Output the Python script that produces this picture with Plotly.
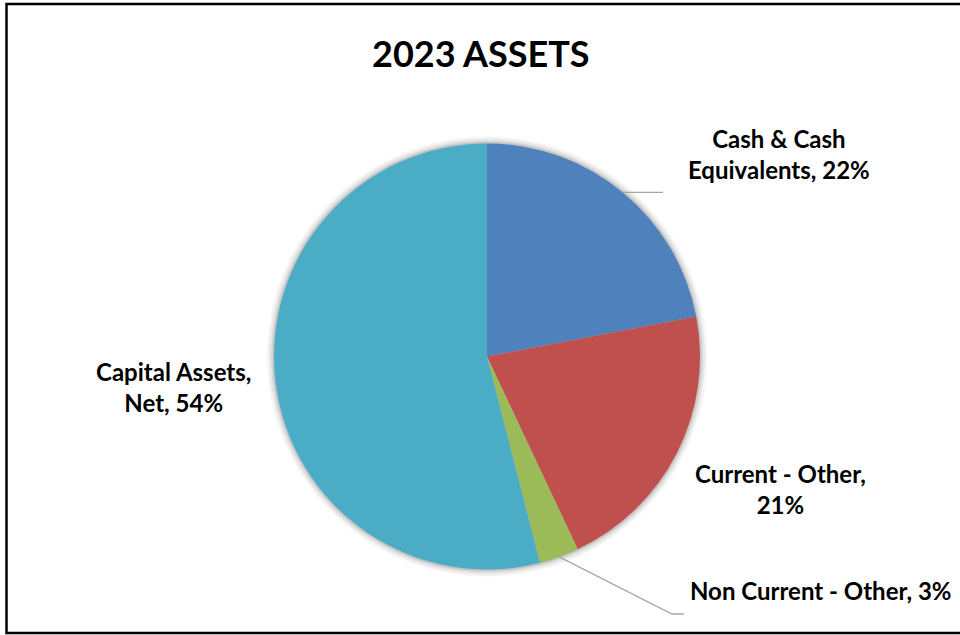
import math
import plotly.graph_objects as go

# Asset composition, percent of total
categories = ["Cash & Cash Equivalents", "Current - Other", "Non Current - Other", "Capital Assets, Net"]
values = [22, 21, 3, 54]
colors = ["#4F81BD", "#C0504D", "#9BBB59", "#4BACC6"]
# Data-label text (line breaks as they wrap on the chart)
label_lines = [
    ["Cash & Cash", "Equivalents, {}%"],
    ["Current - Other,", "{}%"],
    ["Non Current - Other, {}%"],
    ["Capital Assets,", "Net, {}%"],
]

W, H = 960, 635
FONT = "Lato"
CX, CY, R = 487, 356.5, 213  # pie centre / radius in pixels (y measured from top)


def px(x):
    return x / W


def py(y):
    return 1 - y / H


def edge_point(frac):
    """Pixel point on the pie rim at a given cumulative fraction (clockwise from 12 o'clock)."""
    a = 2 * math.pi * frac
    return CX + R * math.sin(a), CY - R * math.cos(a)


fig = go.Figure()

fig.add_trace(go.Pie(
    labels=categories,
    values=values,
    sort=False,
    direction="clockwise",
    rotation=0,
    marker=dict(colors=colors, line=dict(width=0)),
    textinfo="none",
    hoverinfo="label+percent",
    showlegend=False,
    domain=dict(x=[px(CX - R), px(CX + R)], y=[py(CY + R), py(CY - R)]),
))

shapes = []

# soft glow around the pie
for grow, op in [(7, 0.04), (5, 0.05), (3, 0.07), (1.5, 0.09)]:
    shapes.append(dict(
        type="circle", xref="paper", yref="paper", layer="below",
        x0=px(CX - R - grow), x1=px(CX + R + grow),
        y0=py(CY + R + grow), y1=py(CY - R - grow),
        fillcolor=f"rgba(0,0,0,{op})", line=dict(width=0),
    ))

# chart border
shapes.append(dict(
    type="rect", xref="paper", yref="paper",
    x0=px(6.5), x1=px(975), y0=py(633), y1=py(4),
    line=dict(color="black", width=2.5), fillcolor="rgba(0,0,0,0)",
))

# leader lines from slice mid-angles
total = sum(values)
cum = []
acc = 0
for v in values:
    cum.append((acc + v / 2) / total)
    acc += v

x0, y0 = edge_point(cum[0])
shapes.append(dict(type="line", xref="paper", yref="paper",
                   x0=px(x0), y0=py(y0), x1=px(663), y1=py(y0),
                   line=dict(color="#A6A6A6", width=1.3)))

x0, y0 = edge_point(cum[2])
shapes.append(dict(type="path", xref="paper", yref="paper",
                   path=f"M {px(x0)},{py(y0)} L {px(672)},{py(614)} L {px(684)},{py(614)}",
                   line=dict(color="#A6A6A6", width=1.3)))

# label anchor positions (pixels)
label_pos = [(779, 154), (780, 489), (820, 590), (173, 387)]

annotations = []
for lines, v, (lx, ly) in zip(label_lines, values, label_pos):
    text = "<br>".join(lines).format(v)
    annotations.append(dict(
        x=px(lx), y=py(ly), xref="paper", yref="paper", text=text,
        showarrow=False, xanchor="center", yanchor="middle", align="center",
        font=dict(family=FONT, size=24, color="black", weight="bold"),
    ))

annotations.append(dict(
    x=px(481), y=py(53), xref="paper", yref="paper", text="2023 ASSETS",
    showarrow=False, xanchor="center", yanchor="middle",
    font=dict(family=FONT, size=36, color="black", weight="bold"),
))

fig.update_layout(
    width=W, height=H,
    margin=dict(l=0, r=0, t=0, b=0),
    paper_bgcolor="white", plot_bgcolor="white",
    shapes=shapes, annotations=annotations,
)

fig.write_html("out.html")
